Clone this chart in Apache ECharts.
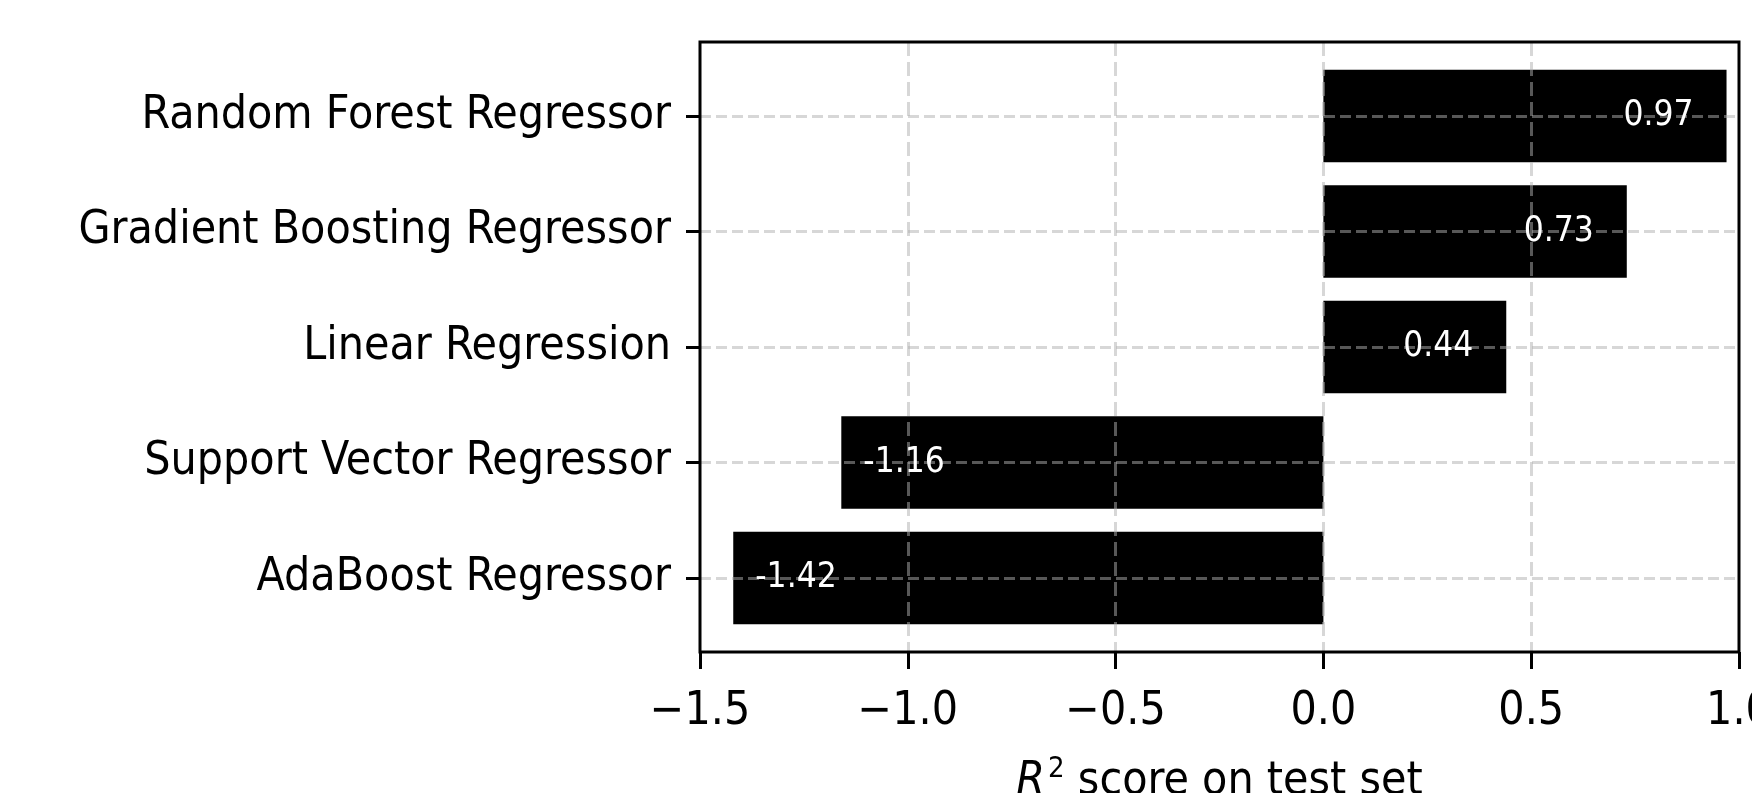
<!DOCTYPE html>
<html>
<head>
<meta charset="utf-8">
<script src="https://cdn.jsdelivr.net/npm/echarts@6/dist/echarts.min.js"></script>
<style>
  html, body { margin: 0; padding: 0; background: #fff; }
  #chart { width: 1752px; height: 793px; }
</style>
</head>
<body>
<div id="chart"></div>
<script>
// models from bottom to top, as plotted
var models = ['AdaBoost Regressor', 'Support Vector Regressor', 'Linear Regression', 'Gradient Boosting Regressor', 'Random Forest Regressor'];
var r2Scores = [-1.42, -1.16, 0.44, 0.73, 0.97];
var modelPositions = [0, 1, 2, 3, 4];
var xTicks = [-1.5, -1.0, -0.5, 0.0, 0.5, 1.0];

var FONT = '"DejaVu Sans Condensed", "DejaVu Sans", sans-serif';
var GRID_COLOR = 'rgba(176,176,176,0.5)';

var chart = echarts.init(document.getElementById('chart'));
var barData = r2Scores.map(function (v, i) { return [v, modelPositions[i]]; });

var option = {
  backgroundColor: '#fff',
  animation: false,
  grid: {
    left: 700, right: 13, top: 42, bottom: 141,
    outerBoundsMode: 'none',
    containLabel: false,
    show: true, z: 20,
    borderColor: '#000', borderWidth: 3,
    backgroundColor: 'transparent'
  },
  xAxis: {
    type: 'value',
    min: xTicks[0], max: xTicks[xTicks.length - 1], interval: 0.5,
    z: 10,
    axisLine: { show: false, onZero: false },
    axisTick: { show: true, length: 17, lineStyle: { color: '#000', width: 3 } },
    axisLabel: {
      margin: 37, fontSize: 46, fontFamily: FONT, color: '#000',
      formatter: function (v) { return (v < 0 ? '\u2212' : '') + Math.abs(v).toFixed(1); }
    },
    splitLine: {
      show: true, showMinLine: false, showMaxLine: false,
      lineStyle: { color: GRID_COLOR, width: 3, type: [14, 6] }
    },
    name: '{i|R}{sup|2} score on test set',
    nameLocation: 'middle',
    nameGap: 103,
    nameTextStyle: {
      fontSize: 46, fontFamily: FONT, color: '#000',
      rich: {
        i: { fontSize: 46, fontFamily: FONT, fontStyle: 'italic', color: '#000' },
        sup: { fontSize: 29, fontFamily: FONT, color: '#000', padding: [0, 0, 25, 3] }
      }
    }
  },
  yAxis: {
    type: 'value',
    min: -0.64, max: 4.64,
    z: 10,
    axisLine: { show: false, onZero: false },
    axisTick: { show: true, length: 14, customValues: modelPositions, lineStyle: { color: '#000', width: 3 } },
    axisLabel: {
      margin: 29, fontSize: 46, fontFamily: FONT, color: '#000',
      padding: [7, 0, 0, 0],
      customValues: modelPositions,
      formatter: function (v) { return models[Math.round(v)]; }
    },
    splitLine: {
      show: true,
      lineStyle: { color: GRID_COLOR, width: 3, type: [11, 5] }
    }
  },
  series: [
    {
      name: 'bars',
      type: 'custom',
      z: 2,
      data: barData,
      encode: { x: 0, y: 1 },
      renderItem: function (params, api) {
        var v = api.value(0), y = api.value(1);
        var p0 = api.coord([0, y]);
        var p1 = api.coord([v, y]);
        var h = api.size([0, 0.8])[1];
        return {
          type: 'rect',
          shape: { x: Math.min(p0[0], p1[0]), y: p0[1] - h / 2, width: Math.abs(p1[0] - p0[0]), height: h },
          style: { fill: '#000' }
        };
      }
    },
    {
      name: 'labels',
      type: 'custom',
      z: 15,
      data: barData,
      encode: { x: 0, y: 1 },
      renderItem: function (params, api) {
        var v = api.value(0), y = api.value(1);
        var p = api.coord([v, y]);
        return {
          type: 'text',
          style: {
            text: v.toFixed(2),
            x: v >= 0 ? p[0] - 33 : p[0] + 22,
            y: p[1],
            align: v >= 0 ? 'right' : 'left',
            verticalAlign: 'middle',
            fill: '#fff',
            fontSize: 35,
            fontFamily: FONT
          }
        };
      }
    }
  ]
};

chart.setOption(option);
</script>
</body>
</html>
